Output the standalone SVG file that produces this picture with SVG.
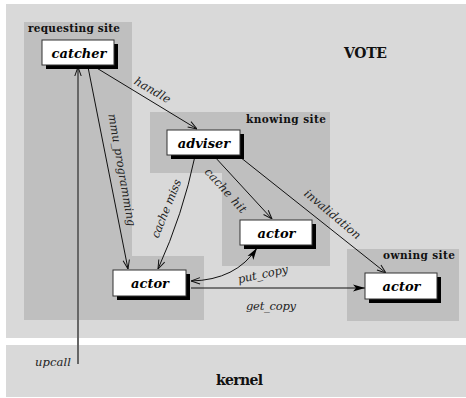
<svg xmlns="http://www.w3.org/2000/svg" width="466" height="398" viewBox="0 0 466 398">
  <style>
    .layer { fill: #d9d9d9; }
    .site { fill: #bfbfbf; }
    .site-title { font-family: "DejaVu Serif", "Liberation Serif", serif; font-weight: bold; font-size: 10.5px; fill: #111; }
    .layer-title { font-family: "DejaVu Serif", "Liberation Serif", serif; font-weight: bold; font-size: 14px; fill: #111; }
    .box { fill: #ffffff; stroke: #333; stroke-width: 1; }
    .shadow { fill: #000; }
    .name { font-family: "DejaVu Serif", "Liberation Serif", serif; font-weight: bold; font-style: italic; font-size: 13px; fill: #000; text-anchor: middle; }
    .edge { fill: none; stroke: #111; stroke-width: 1; }
    .label { font-family: "DejaVu Serif", "Liberation Serif", serif; font-style: italic; font-size: 11.5px; fill: #222; text-anchor: middle; }
  </style>
  <defs>
    <marker id="open" markerUnits="userSpaceOnUse" viewBox="0 0 10 8" refX="10" refY="4" markerWidth="10" markerHeight="8" orient="auto-start-reverse">
      <path d="M1,0.8 L10,4 L1,7.2" fill="none" stroke="#111" stroke-width="1"/>
    </marker>
    <marker id="solid" markerUnits="userSpaceOnUse" viewBox="0 0 12 8" refX="12" refY="4" markerWidth="12" markerHeight="8" orient="auto">
      <path d="M0,0.5 L12,4 L0,7.5 L3,4 z" fill="#000"/>
    </marker>
  </defs>

  <!-- layers -->
  <rect class="layer" x="6" y="4" width="460" height="334"/>
  <rect class="layer" x="6" y="345" width="460" height="52"/>
  <text class="layer-title" x="344" y="58" textLength="43">VOTE</text>
  <text class="layer-title" x="216" y="385" textLength="47">kernel</text>

  <!-- sites -->
  <g id="requesting-site">
    <path class="site" d="M24,22 H132 V256 H204 V320 H24 Z"/>
    <text class="site-title" x="28" y="32" textLength="92">requesting site</text>
  </g>
  <g id="knowing-site">
    <path class="site" d="M150,112 H330 V266 H222 V173 H150 Z"/>
    <text class="site-title" x="246" y="123" textLength="80">knowing site</text>
  </g>
  <g id="owning-site">
    <rect class="site" x="347" y="249" width="112" height="72"/>
    <text class="site-title" x="383" y="259" textLength="72">owning site</text>
  </g>

  <!-- connectors -->
  <g id="connectors">
    <path class="edge" d="M95,67 L197,129" marker-end="url(#open)"/>
    <path class="edge" d="M88,67 L128,269" marker-end="url(#open)"/>
    <path d="M78,364 L78,67" fill="none" stroke="#666" stroke-width="2" marker-end="url(#open)"/>
    <path class="edge" d="M195,156 Q183,214 158,269" marker-end="url(#open)"/>
    <path class="edge" d="M214,156 L272,219" marker-end="url(#open)"/>
    <path class="edge" d="M240,157 L386,273" marker-end="url(#open)"/>
    <path class="edge" d="M191,281 Q236,280 257,248" marker-start="url(#open)" marker-end="url(#solid)"/>
    <path class="edge" d="M191,288 L365,288" stroke-width="1.3" marker-end="url(#solid)"/>

    <text class="label" transform="translate(152,91) rotate(30)" y="3" textLength="40">handle</text>
    <text class="label" transform="translate(121,170) rotate(80)" y="3" textLength="114">mmu_programming</text>
    <text class="label" transform="translate(167,209) rotate(-68)" y="3" textLength="62">cache miss</text>
    <text class="label" transform="translate(225,191) rotate(48)" y="3" textLength="56">cache hit</text>
    <text class="label" transform="translate(332,215) rotate(40)" y="3" textLength="70">invalidation</text>
    <text class="label" transform="translate(263,275) rotate(-12)" y="3" textLength="51">put_copy</text>
    <text class="label" x="271" y="310" textLength="50">get_copy</text>
    <text class="label" x="53" y="366" textLength="36">upcall</text>
  </g>

  <!-- nodes -->
  <g id="catcher">
    <rect class="shadow" x="46" y="44" width="72" height="25"/>
    <rect class="box" x="42" y="40" width="72" height="25"/>
    <text class="name" x="79" y="57.5">catcher</text>
  </g>
  <g id="adviser">
    <rect class="shadow" x="171" y="134" width="73" height="25"/>
    <rect class="box" x="167" y="130" width="73" height="25"/>
    <text class="name" x="204" y="147.5">adviser</text>
  </g>
  <g id="actor-knowing">
    <rect class="shadow" x="244" y="224" width="72" height="25"/>
    <rect class="box" x="240" y="220" width="72" height="25"/>
    <text class="name" x="276.5" y="237.5">actor</text>
  </g>
  <g id="actor-requesting">
    <rect class="shadow" x="117" y="274" width="73" height="26"/>
    <rect class="box" x="113" y="270" width="73" height="26"/>
    <text class="name" x="150" y="288">actor</text>
  </g>
  <g id="actor-owning">
    <rect class="shadow" x="369" y="277" width="72" height="26"/>
    <rect class="box" x="365" y="273" width="72" height="26"/>
    <text class="name" x="401.5" y="291">actor</text>
  </g>
</svg>
